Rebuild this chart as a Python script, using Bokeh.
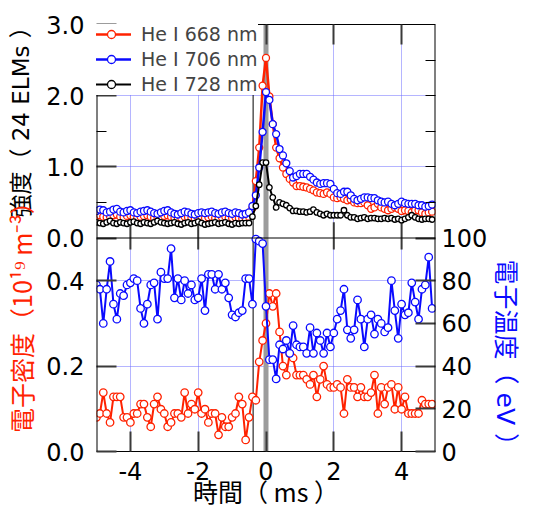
import math
from bokeh.plotting import figure
from bokeh.layouts import row
from bokeh.models import (Range1d, LinearAxis, FixedTicker, Span, Label, Legend,
                          LegendItem, Grid)
from bokeh.embed import file_html
from bokeh.resources import INLINE

# ---------------- data ----------------
time_ms = [-5.0, -4.9, -4.8, -4.7, -4.6, -4.5, -4.4, -4.3, -4.2, -4.1,
           -4.0, -3.9, -3.8, -3.7, -3.6, -3.5, -3.4, -3.3, -3.2, -3.1,
           -3.0, -2.9, -2.8, -2.7, -2.6, -2.5, -2.4, -2.3, -2.2, -2.1,
           -2.0, -1.9, -1.8, -1.7, -1.6, -1.5, -1.4, -1.3, -1.2, -1.1,
           -1.0, -0.9, -0.8, -0.7, -0.6, -0.5, -0.4, -0.3, -0.2, -0.1,
           0.0, 0.1, 0.2, 0.3, 0.4, 0.5, 0.6, 0.7, 0.8, 0.9,
           1.0, 1.1, 1.2, 1.3, 1.4, 1.5, 1.6, 1.7, 1.8, 1.9,
           2.0, 2.1, 2.2, 2.3, 2.4, 2.5, 2.6, 2.7, 2.8, 2.9,
           3.0, 3.1, 3.2, 3.3, 3.4, 3.5, 3.6, 3.7, 3.8, 3.9,
           4.0, 4.1, 4.2, 4.3, 4.4, 4.5, 4.6, 4.7, 4.8, 4.9]

he668 = [0.31, 0.32, 0.30, 0.29, 0.30, 0.32, 0.33, 0.30, 0.29, 0.31,
         0.32, 0.30, 0.28, 0.30, 0.31, 0.32, 0.30, 0.28, 0.28, 0.29,
         0.31, 0.32, 0.30, 0.28, 0.27, 0.28, 0.30, 0.29, 0.28, 0.27,
         0.28, 0.29, 0.28, 0.29, 0.30, 0.28, 0.27, 0.29, 0.30, 0.28,
         0.28, 0.29, 0.28, 0.27, 0.28, 0.30, 0.42, 0.80, 1.27, 2.14,
         2.53, 1.99, 1.60, 1.27, 1.12, 0.99, 0.90, 0.83, 0.78, 0.73,
         0.73, 0.72, 0.71, 0.69, 0.67, 0.64, 0.63, 0.62, 0.64, 0.62,
         0.57, 0.56, 0.57, 0.55, 0.53, 0.54, 0.50, 0.49, 0.49, 0.50,
         0.46, 0.41, 0.43, 0.48, 0.43, 0.41, 0.39, 0.41, 0.43, 0.41,
         0.38, 0.39, 0.38, 0.36, 0.39, 0.39, 0.36, 0.34, 0.36, 0.37]

he706 = [0.38, 0.40, 0.39, 0.36, 0.37, 0.40, 0.41, 0.37, 0.36, 0.38,
         0.39, 0.36, 0.35, 0.37, 0.38, 0.39, 0.37, 0.35, 0.34, 0.36,
         0.38, 0.39, 0.36, 0.34, 0.33, 0.35, 0.37, 0.36, 0.34, 0.33,
         0.35, 0.36, 0.35, 0.36, 0.37, 0.35, 0.34, 0.36, 0.37, 0.35,
         0.34, 0.36, 0.35, 0.33, 0.34, 0.36, 0.45, 0.60, 0.99, 1.49,
         2.05, 1.94, 1.60, 1.46, 1.25, 1.16, 1.05, 0.94, 0.85, 0.87,
         0.90, 0.90, 0.90, 0.86, 0.82, 0.78, 0.76, 0.77, 0.77, 0.76,
         0.69, 0.63, 0.62, 0.65, 0.65, 0.60, 0.55, 0.53, 0.55, 0.57,
         0.57, 0.56, 0.56, 0.53, 0.51, 0.50, 0.51, 0.48, 0.46, 0.48,
         0.51, 0.49, 0.48, 0.48, 0.48, 0.46, 0.46, 0.44, 0.45, 0.47]

he728 = [0.22, 0.21, 0.20, 0.22, 0.24, 0.21, 0.20, 0.22, 0.21, 0.20,
         0.22, 0.23, 0.21, 0.20, 0.22, 0.21, 0.20, 0.22, 0.24, 0.22,
         0.21, 0.20, 0.21, 0.22, 0.20, 0.19, 0.21, 0.22, 0.20, 0.21,
         0.23, 0.21, 0.19, 0.20, 0.21, 0.22, 0.20, 0.21, 0.22, 0.20,
         0.19, 0.21, 0.20, 0.21, 0.21, 0.21, 0.30, 0.45, 0.75, 1.06,
         1.06, 0.71, 0.57, 0.43, 0.50, 0.48, 0.46, 0.42, 0.38, 0.38,
         0.37, 0.37, 0.36, 0.37, 0.40, 0.36, 0.34, 0.32, 0.34, 0.32,
         0.32, 0.32, 0.32, 0.39, 0.32, 0.29, 0.29, 0.27, 0.28, 0.29,
         0.27, 0.28, 0.28, 0.27, 0.27, 0.28, 0.27, 0.28, 0.26, 0.27,
         0.25, 0.27, 0.29, 0.32, 0.29, 0.27, 0.26, 0.27, 0.27, 0.26]

density = [0.080, 0.089, 0.138, 0.089, 0.068, 0.128, 0.128, 0.128, 0.080, 0.080,
           0.068, 0.089, 0.089, 0.111, 0.111, 0.080, 0.058, 0.111, 0.128, 0.099,
           0.089, 0.058, 0.068, 0.089, 0.089, 0.080, 0.138, 0.089, 0.111, 0.099,
           0.138, 0.089, 0.099, 0.068, 0.089, 0.089, 0.039, 0.080, 0.058, 0.058,
           0.080, 0.089, 0.128, 0.111, 0.027, 0.080, 0.128, 0.120, 0.210, 0.260,
           0.300, 0.370, 0.340, 0.370, 0.280, 0.200, 0.179, 0.229, 0.219, 0.179,
           0.179, 0.179, 0.169, 0.157, 0.179, 0.128, 0.169, 0.200, 0.157, 0.150,
           0.150, 0.157, 0.150, 0.089, 0.169, 0.150, 0.150, 0.128, 0.150, 0.128,
           0.128, 0.138, 0.179, 0.089, 0.150, 0.111, 0.150, 0.157, 0.099, 0.150,
           0.099, 0.128, 0.089, 0.089, 0.089, 0.089, 0.120, 0.111, 0.111, 0.111]

temperature = [78, 76, 60, 76, 89, 69, 62, 74, 73, 78,
               79, 81, 80, 67, 60, 69, 78, 79, 62, 84,
               81, 81, 95, 72, 81, 71, 80, 74, 78, 71,
               72, 81, 66, 83, 83, 76, 83, 76, 79, 72,
               64, 63, 65, 66, 81, 81, 69, 99.5, 98.5, 97.4,
               68, 43, 43, 34, 50, 48, 52, 46, 59, 50,
               49, 49, 46, 58, 46, 55.5, 52, 46, 55.5, 49,
               55.5, 62, 66, 76, 57, 53, 57, 71, 62, 49,
               62, 64, 55, 62, 60, 56, 58, 80, 66, 53,
               69, 64, 65, 79, 70, 62, 76, 78, 91, 67]

series_labels = ["He I 668 nm", "He I 706 nm", "He I 728 nm"]

x_ticks = [-4, -2, 0, 2, 4]
x_tick_labels = ["-4", "-2", "0", "2", "4"]
intensity_ticks = [0, 1, 2, 3]
intensity_tick_labels = ["0.0", "1.0", "2.0", "3.0"]
intensity_minor = [0.5, 1.5, 2.5]
density_ticks = [0.0, 0.2, 0.4]
density_tick_labels = ["0.0", "0.2", "0.4"]
temp_ticks = [0, 20, 40, 60, 80, 100]
temp_tick_labels = ["0", "20", "40", "60", "80", "100"]

title_intensity = "強度（ 24 ELMs ）"
title_density = "電子密度（10¹⁹ m⁻³）"
title_temp = "電子温度（ eV ）"
title_time = "時間（ ms ）"

elm_onset = -0.38   # thin black marker line
elm_peak = 0.0      # grey band

RED = "#ff2200"
BLUE = "#0a0aff"
TICK_FONT = "DejaVu Sans"
JP_FONT = "Noto Sans CJK JP"
MIX_FONT = "DejaVu Sans, Noto Sans CJK JP"
TITLE_SIZE = "25px"


# master vertical coordinate: lower panel 0..300, upper panel 300..600
def m_int(v):
    return int(round(300 + 100 * v))


def m_den(d):
    return int(round(600 * d))


def m_te(t):
    return int(round(3 * t))


TOTAL_H = 511
LEFT_W, MAIN_W, RIGHT_W = 42, 448, 30   # 520 px in total

p = figure(width=MAIN_W, height=TOTAL_H, output_backend="svg", toolbar_location=None,
           x_range=Range1d(-5, 5), y_range=Range1d(0, 600),
           x_axis_location=None, y_axis_location=None,
           min_border_left=54, min_border_right=52, min_border_top=24,
           min_border_bottom=59, background_fill_color="white",
           border_fill_color="white", outline_line_color=None)
p.grid.visible = False
p.extra_y_ranges = {"inten": Range1d(-3, 3), "dens": Range1d(0, 1.0),
                    "te": Range1d(0, 200)}

# grids
p.add_layout(Grid(dimension=0, ticker=FixedTicker(ticks=x_ticks),
                  grid_line_color="#6a6aff", grid_line_dash="1 1", grid_line_width=1))
p.add_layout(Grid(dimension=1,
                  ticker=FixedTicker(ticks=[m_den(0.2), m_den(0.4), m_int(1), m_int(2)]),
                  grid_line_color="#6a6aff", grid_line_dash="1 1", grid_line_width=1))

# vertical markers
p.add_layout(Span(location=elm_peak, dimension="height", line_color="#9c9c9c",
                  line_width=5, level="underlay"))
p.add_layout(Span(location=elm_onset, dimension="height", line_color="black",
                  line_width=1, level="underlay"))
# frame edges and panel separator
p.add_layout(Span(location=-5, dimension="height", line_color="black", line_width=2))
p.add_layout(Span(location=5, dimension="height", line_color="black", line_width=2))
p.add_layout(Span(location=300, dimension="width", line_color="black", line_width=1))
# ticks on the panel separator
mid_x = [x for x in x_ticks if x != 0]
p.segment(x0=mid_x, y0=[284] * len(mid_x), x1=mid_x, y1=[322] * len(mid_x),
          line_color="#3a3a3a", line_width=2)


def style_axis(ax, show_labels=True, show_line=True):
    ax.axis_line_color = "black" if show_line else None
    ax.axis_line_width = 1
    ax.major_tick_in = 20
    ax.major_tick_out = 0
    ax.minor_tick_in = 10
    ax.minor_tick_out = 0
    ax.major_tick_line_color = "#3a3a3a"
    ax.major_tick_line_width = 2
    ax.minor_tick_line_color = "black"
    ax.minor_tick_line_width = 1
    ax.major_label_text_font = TICK_FONT
    if show_labels:
        ax.major_label_text_font_size = "24px"
        ax.major_label_text_color = "black"
    else:
        ax.major_label_text_font_size = "1px"
        ax.major_label_text_color = None
        ax.major_label_standoff = 0


# left axis: density (lower panel) + intensity (upper panel)
left_pos = [m_den(d) for d in density_ticks] + [m_int(v) for v in intensity_ticks]
left_lab = density_tick_labels + intensity_tick_labels
left_ax = LinearAxis(ticker=FixedTicker(ticks=left_pos,
                                        minor_ticks=[m_int(v) for v in intensity_minor]),
                     major_label_overrides=dict(zip(left_pos, left_lab)))
style_axis(left_ax, show_line=False)
left_ax.major_label_standoff = 12
p.add_layout(left_ax, "left")

# right axis: temperature (lower panel); upper panel gets minor ticks only
right_pos = [m_te(t) for t in temp_ticks]
right_ax = LinearAxis(ticker=FixedTicker(ticks=right_pos,
                                         minor_ticks=[m_int(v) for v in
                                                      [0.5, 1.0, 1.5, 2.0, 2.5]]),
                      major_label_overrides=dict(zip(right_pos, temp_tick_labels)))
style_axis(right_ax, show_line=False)
right_ax.major_label_standoff = 6
p.add_layout(right_ax, "right")

# x axes
bottom_ax = LinearAxis(ticker=FixedTicker(ticks=x_ticks),
                       major_label_overrides=dict(zip(x_ticks, x_tick_labels)),
                       axis_label=title_time)
style_axis(bottom_ax)
bottom_ax.major_label_standoff = 10
bottom_ax.axis_label_text_font = JP_FONT
bottom_ax.axis_label_text_font_size = TITLE_SIZE
bottom_ax.axis_label_text_font_style = "normal"
bottom_ax.axis_label_text_color = "black"
bottom_ax.axis_label_standoff = -10
p.add_layout(bottom_ax, "below")

top_ax = LinearAxis(ticker=FixedTicker(ticks=x_ticks))
style_axis(top_ax, show_labels=False)
p.add_layout(top_ax, "above")

# ---------------- data glyphs ----------------
items = []
for vals, col, lw, sz, lab in [(he668, RED, 2.5, 7, series_labels[0]),
                               (he706, BLUE, 2.5, 7, series_labels[1]),
                               (he728, "black", 2.0, 5.5, series_labels[2])]:
    l = p.line(time_ms, vals, y_range_name="inten", line_color=col, line_width=lw)
    s = p.scatter(time_ms, vals, y_range_name="inten", marker="circle", size=sz,
                  fill_color="white", line_color=col, line_width=1.3)
    items.append(LegendItem(label=lab, renderers=[l, s]))

p.line(time_ms, density, y_range_name="dens", line_color=RED, line_width=2)
p.scatter(time_ms, density, y_range_name="dens", marker="circle", size=7.5,
          fill_color="white", line_color=RED, line_width=1.3)
p.line(time_ms, temperature, y_range_name="te", line_color=BLUE, line_width=2)
p.scatter(time_ms, temperature, y_range_name="te", marker="circle", size=7.5,
          fill_color="white", line_color=BLUE, line_width=1.3)

legend = Legend(items=items, location=(-5, 356), padding=2, spacing=3, margin=0,
                glyph_width=40, glyph_height=20, label_height=20, label_standoff=10,
                label_text_font=TICK_FONT, label_text_font_size="19px",
                border_line_color=None, background_fill_color="white",
                background_fill_alpha=1.0)
p.add_layout(legend)


# ---------------- title strips (vertical axis titles) ----------------
def strip(w, h):
    f = figure(width=w, height=h, output_backend="svg", toolbar_location=None,
               title=None, x_range=Range1d(0, w), y_range=Range1d(0, h),
               x_axis_location=None, y_axis_location=None, min_border=0,
               outline_line_color=None, background_fill_color="white",
               border_fill_color="white")
    f.grid.visible = False
    return f


left_strip = strip(LEFT_W, TOTAL_H)
left_strip.add_layout(Label(x=20, y=TOTAL_H - 110, text=title_intensity,
                            angle=math.pi / 2, text_align="center",
                            text_baseline="middle", text_font=MIX_FONT,
                            text_font_size="23px", text_color="black"))
left_strip.add_layout(Label(x=20, y=TOTAL_H - 343, text=title_density,
                            angle=math.pi / 2, text_align="center",
                            text_baseline="middle", text_font=JP_FONT,
                            text_font_size=TITLE_SIZE, text_color=RED))

right_strip = strip(RIGHT_W, TOTAL_H)
right_strip.add_layout(Label(x=15, y=TOTAL_H - 400, text=title_temp,
                             angle=-math.pi / 2, text_align="center",
                             text_baseline="middle", text_font=MIX_FONT,
                             text_font_size=TITLE_SIZE, text_color=BLUE))

layout = row(left_strip, p, right_strip)

with open("out.html", "w", encoding="utf-8") as f:
    f.write(file_html(layout, INLINE))
